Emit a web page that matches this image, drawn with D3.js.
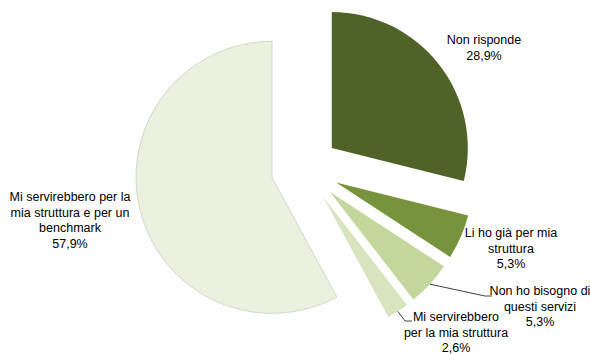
<!DOCTYPE html>
<html>
<head>
<meta charset="utf-8">
<script src="https://cdn.jsdelivr.net/npm/d3@7"></script>
<style>
body { margin: 0; background: #fff; }
.lbl { font-family: "Liberation Sans Narrow", "Liberation Sans", Arial, sans-serif; font-size: 12.5px; fill: #000; }
</style>
</head>
<body>
<div id="chart"></div>
<script>
// data
var categories = [
    "Non risponde",
    "Li ho già per mia struttura",
    "Non ho bisogno di questi servizi",
    "Mi servirebbero per la mia struttura",
    "Mi servirebbero per la mia struttura e per un benchmark"
];
var values = [28.9, 5.3, 5.3, 2.6, 57.9];
var valueLabels = ["28,9%", "5,3%", "5,3%", "2,6%", "57,9%"];
var colors = ["#4F6228", "#77933C", "#C3D69B", "#D7E4BD", "#EBF0DF"];

// how the label text is broken and where it sits
var labelLines = [
    ["Non risponde"],
    ["Li ho già per mia", "struttura"],
    ["Non ho bisogno di", "questi servizi"],
    ["Mi servirebbero", "per la mia struttura"],
    ["Mi servirebbero per la", "mia struttura e per un", "benchmark"]
];
var labelPos = [
    {x: 484, y: 40},
    {x: 511, y: 233},
    {x: 540, y: 291},
    {x: 456, y: 317},
    {x: 70, y: 197}
];
var leaderEnd = [null, null, {x: 492, y: 296}, {x: 412, y: 321}, null];

var width = 590, height = 354;
var cx = 305, cy = 169, radius = 136, explode = 34;

var svg = d3.select("#chart").append("svg")
    .attr("width", width)
    .attr("height", height);

var pie = d3.pie().sort(null).value(function(d) { return d; });
var arcs = pie(values);
var arc = d3.arc().innerRadius(0).outerRadius(radius);

function dir(d) {
    var a = (d.startAngle + d.endAngle) / 2;
    return [Math.sin(a), -Math.cos(a)];
}

var slices = svg.append("g").attr("transform", "translate(" + cx + "," + cy + ")");

slices.selectAll(".slice").data(arcs)
    .enter().append("path")
    .attr("class", "slice")
    .attr("d", arc)
    .attr("fill", function(d, i) { return colors[i]; })
    .attr("stroke", function(d, i) { return i == 4 ? "#d4d8cb" : "none"; })
    .attr("stroke-width", 1)
    .attr("transform", function(d) {
        var v = dir(d);
        return "translate(" + v[0] * explode + "," + v[1] * explode + ")";
    });

// leader lines for the small slices
arcs.forEach(function(d, i) {
    var e = leaderEnd[i];
    if (!e) return;
    var v = dir(d);
    var x0 = cx + v[0] * (radius + explode), y0 = cy + v[1] * (radius + explode);
    svg.append("polyline")
        .attr("points", [[x0, y0], [e.x - 7, e.y], [e.x, e.y]].map(function(p) { return p.join(","); }).join(" "))
        .attr("fill", "none")
        .attr("stroke", "#404040")
        .attr("stroke-width", 1);
});

// labels
var lineH = 15.5;
arcs.forEach(function(d, i) {
    var lines = labelLines[i].concat([valueLabels[i]]);
    var t = svg.append("text")
        .attr("class", "lbl")
        .attr("text-anchor", "middle")
        .attr("x", labelPos[i].x)
        .attr("y", labelPos[i].y);
    t.selectAll("tspan").data(lines)
        .enter().append("tspan")
        .attr("x", labelPos[i].x)
        .attr("dy", function(l, j) { return j == 0 ? "0.35em" : lineH; })
        .text(function(l) { return l; });
});
</script>
</body>
</html>
